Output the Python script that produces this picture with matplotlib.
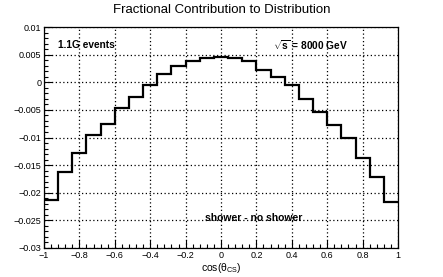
import numpy as np
import matplotlib
matplotlib.use('Agg')
import matplotlib.pyplot as plt
from matplotlib.ticker import MultipleLocator

plt.rcParams['font.family'] = ['Liberation Sans', 'DejaVu Sans']
plt.rcParams['mathtext.fontset'] = 'custom'
plt.rcParams['mathtext.rm'] = 'Liberation Sans'
plt.rcParams['mathtext.it'] = 'Liberation Sans'
plt.rcParams['mathtext.bf'] = 'Liberation Sans:bold'

# 25 bins in cos(theta_CS), from -1 to 1
bin_edges = np.linspace(-1, 1, 26)
frac_diff = [-0.0213, -0.0162, -0.0128, -0.0096, -0.0075, -0.0047, -0.0027,
             -0.0005, 0.0015, 0.0030, 0.0039, 0.0043, 0.0045, 0.0043, 0.0039,
             0.0023, 0.0009, -0.0005, -0.0030, -0.0053, -0.0078, -0.0101,
             -0.0137, -0.0172, -0.0217]

fig = plt.figure(figsize=(4.43, 2.77), dpi=100)
ax = fig.add_axes([0.0993, 0.1047, 0.7991, 0.7978])

ax.stairs(frac_diff, bin_edges, color='black', linewidth=1.6, baseline=None)

ax.set_xlim(-1, 1)
ax.set_ylim(-0.03, 0.01)
ax.xaxis.set_minor_locator(MultipleLocator(0.04))
ax.yaxis.set_minor_locator(MultipleLocator(0.001))
ax.set_xticks(np.arange(-1, 1.01, 0.2))
ax.set_xticklabels(['\u22121', '\u22120.8', '\u22120.6', '\u22120.4', '\u22120.2',
                    '0', '0.2', '0.4', '0.6', '0.8', '1'])
ax.set_yticks(np.arange(-0.03, 0.0101, 0.005))
ax.set_yticklabels(['\u22120.03', '\u22120.025', '\u22120.02', '\u22120.015', '\u22120.01',
                    '\u22120.005', '0', '0.005', '0.01'])
ax.tick_params(which='both', direction='in', top=False, right=False, labelsize=6.5, pad=2)
ax.tick_params(which='major', length=6, width=0.8)
ax.tick_params(which='minor', length=3, width=0.8)
ax.grid(True, which='major', color='black', linestyle=(0, (1, 2)), linewidth=0.9)
for s in ax.spines.values():
    s.set_linewidth(0.9)

ax.set_xlabel(r'cos($\theta_{CS}$)', fontsize=7.5, labelpad=1)
fig.text(0.5, 0.965, 'Fractional Contribution to Distribution', ha='center', va='center', fontsize=9.5)

ax.text(0.04, 0.92, '1.1G events', transform=ax.transAxes, fontsize=7.3, fontweight='bold', va='center')
ax.text(0.648, 0.92, r'$\mathbf{\sqrt{s}}$ = 8000 GeV', transform=ax.transAxes, fontsize=7.3,
        fontweight='bold', va='center')
ax.text(0.455, 0.135, 'shower - no shower', transform=ax.transAxes, fontsize=7.5, fontweight='bold', va='center')

fig.savefig('out.png', dpi=100)
